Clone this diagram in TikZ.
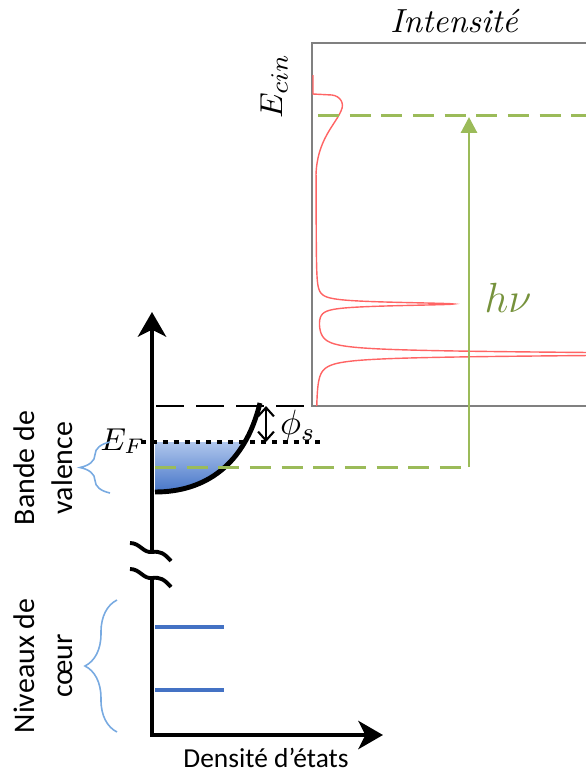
\documentclass[tikz,border=0pt]{standalone}
\usepackage{fontspec}
\usepackage{xcolor}
\usepackage{amsmath, amssymb}
\usetikzlibrary{arrows.meta, decorations.pathreplacing}
\newfontfamily\calibfont{Carlito}
\definecolor{vert}{RGB}{155,187,89}
\definecolor{vertfonce}{RGB}{118,146,60}
\definecolor{bleu}{RGB}{68,114,196}
\definecolor{bleuclair}{RGB}{120,170,225}
\definecolor{rouge}{RGB}{255,100,100}

\begin{document}
\begin{tikzpicture}[x=0.01cm, y=-0.01cm,
  axe/.style={line width=1.4pt},
  pointe/.style={-{Stealth[length=7pt,width=8pt,inset=2pt]}},
  titre/.style={font=\calibfont\fontsize{8.5}{10.8}\selectfont, rotate=90, align=center},
  accolade/.style={draw=bleuclair, line width=0.45pt, decorate, decoration={brace, amplitude=#1}},
  niveau/.style={draw=bleu, line width=1.4pt},
  tirets/.style={vert, line width=0.85pt, dash pattern=on 6pt off 3pt}]
  \useasboundingbox (0,0) rectangle (586,772);

  % Axes
  \coordinate (haut) at (152,312);
  \coordinate (coupe1) at (152,552);
  \coordinate (coupe2) at (152,578);
  \coordinate (orig) at (152,735);
  \coordinate (droite) at (383,735);
  \draw[axe, pointe] (coupe1) -- (haut);
  \draw[axe, pointe] (coupe2) -- (orig) -- (droite);
  \draw[line width=1.1pt] (130,543) .. controls (140,543) and (143,553) .. (coupe1)
    .. controls (160,551) and (164,553) .. (171,561);
  \draw[line width=1.1pt] (130,569) .. controls (140,569) and (143,579) .. (coupe2)
    .. controls (160,577) and (164,579) .. (171,587);

  % Bande de valence
  \coordinate (fond) at (155,492);
  \coordinate (sommet) at (260,403);
  \begin{scope}
    \clip (fond) .. controls (205,492) and (245,465) .. (sommet) -- (155,403) -- cycle;
    \shade[top color={rgb,255:red,175;green,198;blue,236}, bottom color={rgb,255:red,70;green,117;blue,200}]
      (155,442) rectangle (265,492);
  \end{scope}
  \draw[line width=1.4pt] (fond) .. controls (205,492) and (245,465) .. (sommet);

  % Niveaux
  \coordinate (vide1) at (156,406);
  \coordinate (vide2) at (305,406);
  \draw[line width=0.6pt, dash pattern=on 8pt off 3.4pt] (vide1) -- (vide2);
  \coordinate (fermi1) at (141,442);
  \coordinate (fermi2) at (322,442);
  \draw[line width=1.4pt, dash pattern=on 1.4pt off 1.7pt] (fermi1) -- (fermi2);
  \node (EF) at (123,441) {\fontsize{9}{10}\selectfont$E_F$};
  \coordinate (phiH) at (266,406);
  \coordinate (phiB) at (266,442);
  \draw[line width=0.6pt, {Straight Barb[length=2.5pt,width=4.5pt]}-{Straight Barb[length=2.5pt,width=4.5pt]}] (phiH) -- (phiB);
  \node (phi) at (298,426) {\fontsize{10}{12}\selectfont$\phi_s$};

  % Niveaux de coeur
  \draw[niveau] (155,627) -- (224,627);
  \draw[niveau] (155,690) -- (224,690);

  % Accolades et textes
  \draw[accolade=0.3cm] (110,493) -- (110,442);
  \draw[accolade=0.32cm] (117,732) -- (117,600);
  \node[titre] (bande) at (43,468) {Bande de\\valence};
  \node[titre] (coeur) at (43,666) {Niveaux de\\cœur};
  \node (dos) at (266,758) {\calibfont\fontsize{7.8}{9}\selectfont Densité d’états};

  % Spectre
  \draw[gray, line width=0.5pt] (586,43) -- (312,43) -- (312,406) -- (586,406);
  \node (inten) at (455,21) {\fontsize{9.5}{11}\selectfont\textit{Intensité}};
  \node[rotate=90] (ecin) at (274,86) {\fontsize{9.5}{11}\selectfont$E_{cin}$};
  \begin{scope}
    \clip (312,0) rectangle (586,772);
    \draw[rouge, line width=0.4pt] (313,75) -- (313,94) -- (332,95)
      .. controls (340,96) and (345,103) .. (341,111)
      .. controls (335,125) and (317,140) .. (316,175);
    \draw[rouge, line width=0.4pt] plot[domain=175:406, samples=900, variable=\t]
      ({316 + 137/(1+((\t-304)/2)^2) + 400/(1+((\t-354)/2.2)^2)}, \t);
  \end{scope}

  % Photon
  \coordinate (hv1) at (318,115);
  \coordinate (hv2) at (586,115);
  \coordinate (bas1) at (155,467);
  \coordinate (coin) at (469,467);
  \coordinate (fleche) at (469,117);
  \draw[tirets] (hv1) -- (hv2);
  \draw[tirets] (bas1) -- (coin);
  \draw[vert, line width=0.85pt, -{Triangle[length=4.5pt,width=4.5pt]}] (coin) -- (fleche);
  \node[text=vertfonce] (hnu) at (508,298) {\fontsize{12.5}{14}\selectfont$h\nu$};
\end{tikzpicture}
\end{document}
